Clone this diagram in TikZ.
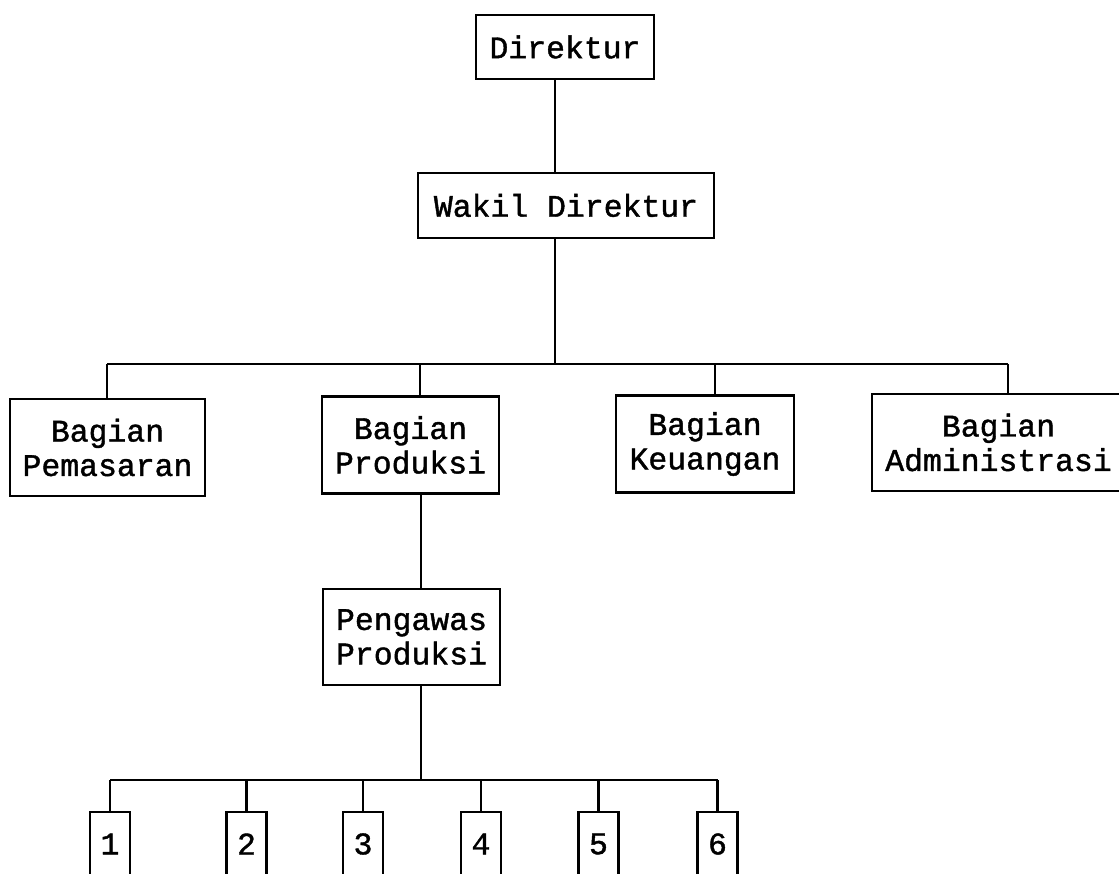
\documentclass[tikz,border=0pt]{standalone}
\usepackage{fontspec}
\newfontfamily\plotfont[FakeBold=1.3]{Liberation Mono}

\tikzset{
	unit/.style={draw, line width=1.6pt, inner sep=0pt, minimum height=1.94cm, align=center,
		font={\plotfont\fontsize{17.9pt}{19.6pt}\selectfont}},
	link/.style={line width=1.6pt}
}

\begin{document}
\begin{tikzpicture}[x=0.02cm, y=-0.02cm]
		\useasboundingbox (0,0) rectangle (1119,874);
		\clip (0,0) rectangle (1119,874);
		\node[unit, minimum width=3.56cm, minimum height=1.28cm] (direktur) at (565,47) {Direktur};
		\node[unit, minimum width=5.92cm, minimum height=1.3cm] (wakil) at (566,205.5) {Wakil Direktur};
		\node[unit, minimum width=3.9cm] (pemasaran) at (107.5,447.5) {Bagian\\Pemasaran};
		\node[unit, minimum width=3.54cm] (produksi) at (410.5,445) {Bagian\\Produksi};
		\node[unit, minimum width=3.56cm] (keuangan) at (705,444) {Bagian\\Keuangan};
		\node[unit, minimum width=5.06cm] (administrasi) at (998.5,442.5) {Bagian\\Administrasi};
		\node[unit, minimum width=3.54cm, minimum height=1.92cm] (pengawas) at (411.5,637) {Pengawas\\Produksi};
		\foreach \i/\x in {1/110,2/246.5,3/363,4/481,5/598.5,6/717.5}
			{
			\node[unit, minimum width=0.8cm, minimum height=1.28cm] (w\i) at (\x,844) {\i};
			}
		\coordinate (bagian) at (555,364);
		\coordinate (pekerja) at (421,780);
		\draw[link] (direktur.south -| bagian) -- (wakil.north -| bagian);
		\draw[link] (wakil.south -| bagian) -- (bagian);
		\draw[link] (107,364) -- (1008,364);
		\foreach \x/\n in {107/pemasaran,420/produksi,715/keuangan,1008/administrasi}
			{
			\draw[link] (\x,364) -- (\n.north -| \x,0);
			}
		\draw[link] (produksi.south -| pekerja) -- (pengawas.north -| pekerja);
		\draw[link] (pengawas.south -| pekerja) -- (pekerja);
		\draw[link] (w1.north |- pekerja) -- (w6.north |- pekerja);
		\foreach \i in {1,...,6}
			{
			\draw[link] (w\i.north |- pekerja) -- (w\i.north);
			}
	\end{tikzpicture}
\end{document}
